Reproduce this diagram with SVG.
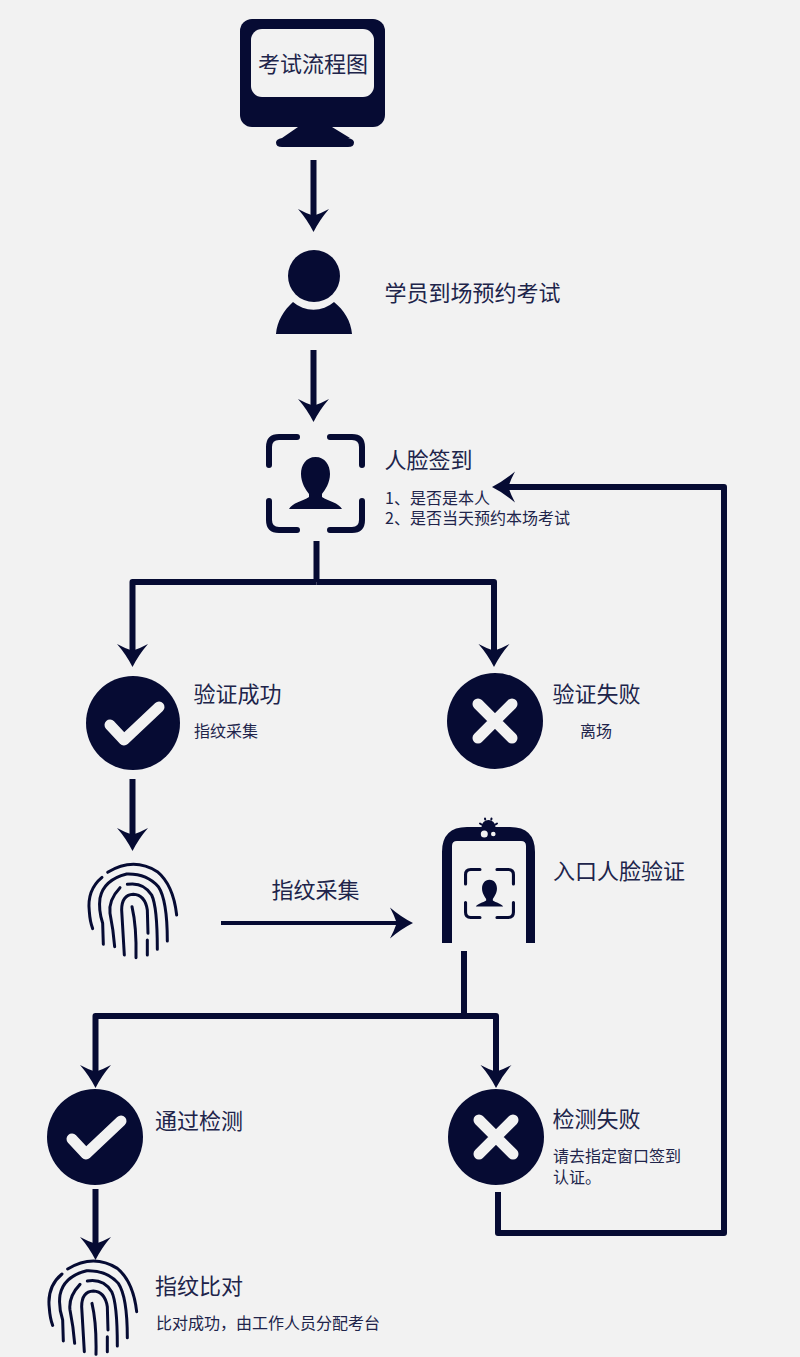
<svg xmlns="http://www.w3.org/2000/svg" xmlns:xlink="http://www.w3.org/1999/xlink" width="800" height="1357" viewBox="0 0 800 1357">
<style>
.f{fill:#060b33}
.bg{fill:#f2f2f2}
.c{fill:none;stroke:#060b33;stroke-width:6;stroke-linejoin:round}
.a{marker-end:url(#ah)}
.t{font-family:"Noto Sans CJK SC","Noto Sans",sans-serif;fill:#20244a;font-weight:400}
.h{font-size:22px}
.s{font-size:16px}
.fp{fill:none;stroke:#060b33;stroke-width:9;stroke-linecap:round;stroke-linejoin:round}
.sc{fill:none;stroke:#060b33;stroke-width:6;stroke-linecap:round}
.ck{fill:none;stroke:#f2f2f2;stroke-width:11;stroke-linecap:round;stroke-linejoin:round}
</style>
<defs>
<marker id="ah" markerUnits="userSpaceOnUse" markerWidth="36" markerHeight="36" refX="10" refY="18" viewBox="0 0 36 36" orient="auto">
<path class="f" d="M23,18Q11,24 0,33.500Q4,26 6,20V16Q4,10 0,2.500Q11,12 23,18Z"/>
</marker>
<g id="scan">
<path class="sc" d="M269,465V447Q269,437 279,437H297M330,437H352Q362,437 362,447V465M269,501V520Q269,530 279,530H297M330,530H352Q362,530 362,520V501"/>
<path class="f" d="M315.500,457C306,457 301,465 301,474C301,483 306,490 309,494V497C303,501 292,503 289,509H342C339,503 328,501 322,497V494C325,490 330,483 330,474C330,465 325,457 315.500,457Z"/>
</g>
<g id="print" transform="scale(.3333)">
<path class="fp" d="M113,67Q190,20 262,65Q310,105 320,195M96,82Q50,120 58,185Q60,215 68,236M100,283L98,220Q85,180 90,145Q100,90 170,72Q230,70 265,110Q292,150 292,273M134,290Q130,240 120,190Q115,150 150,113M172,103Q220,95 245,135Q262,170 262,298M163,315L155,180Q155,135 190,133Q225,135 232,180L234,250M186,170Q200,230 198,323M232,270V315"/>
</g>
</defs>
<rect class="bg" width="800" height="1357"/>
<g id="connectors">
<path class="c a" d="M313.500,160V219"/>
<path class="c a" d="M313.500,350V409"/>
<path class="c" d="M316.500,541V582"/>
<path class="c a" d="M316.500,582H132.500V654"/>
<path class="c a" d="M316.500,582H494V654"/>
<path class="c a" d="M132.500,779V838"/>
<path class="c a" style="stroke-width:4" d="M221,923H400"/>
<path class="c" d="M464,951V1016"/>
<path class="c a" d="M464,1016H95.500V1075"/>
<path class="c a" d="M464,1016H496V1075"/>
<path class="c a" d="M95.500,1189V1247"/>
<path class="c a" d="M498,1192V1233H724V487H505"/>
</g>
<g id="monitor">
<rect class="f" x="240" y="19" width="145" height="108" rx="12"/>
<rect class="bg" x="251" y="29" width="123" height="68" rx="11"/>
<path class="f" d="M298,127H332L350,138H348Q354,139 354,142.500Q354,147 348,147H282Q276,147 276,142.500Q276,139 282,138Z"/>
<text class="t h" x="258" y="71.500">考试流程图</text>
</g>
<g id="person">
<circle class="f" cx="314" cy="276" r="26"/>
<path class="f" d="M276,334C277,321 284,310 293,302A31,31 0 0 0 334,302C344,310 351,321 352,334Z"/>
<text class="t h" x="384.500" y="301">学员到场预约考试</text>
</g>
<g id="face-sign">
<use xlink:href="#scan"/>
<text class="t h" x="384.500" y="468">人脸签到</text>
<text class="t s" x="385" y="504">1、是否是本人</text>
<text class="t s" x="385" y="524">2、是否当天预约本场考试</text>
</g>
<g id="verify-ok">
<circle class="f" cx="133" cy="723" r="47"/>
<path class="ck" d="M110,725L124,740L159,707"/>
<text class="t h" x="193.500" y="702">验证成功</text>
<text class="t s" x="194" y="737">指纹采集</text>
</g>
<g id="verify-fail">
<circle class="f" cx="495" cy="721" r="48"/>
<path class="ck" d="M478,704L512,738M512,704L478,738"/>
<text class="t h" x="552.500" y="702">验证失败</text>
<text class="t s" x="580" y="737">离场</text>
</g>
<g id="fingerprint-1">
<use xlink:href="#print" transform="translate(70,850)"/>
</g>
<g id="collect-label">
<text class="t h" x="271.500" y="898">指纹采集</text>
</g>
<g id="gate">
<path class="f" d="M442,943V852Q442,827 467,827H510Q535,827 535,852V943H526V846Q526,841 521,841H457Q452,841 452,846V943Z"/>
<path class="f" d="M481.500,827A7,7 0 0 1 495.500,827Z"/>
<path fill="none" stroke="#060b33" stroke-width="2" stroke-linecap="round" d="M480,823.500L481.500,824.500M485,818.500L485.200,819.500M491.500,818.500L491.300,819.500M497,823.500L495.500,824.500"/>
<circle class="bg" cx="484.300" cy="834" r="3.500"/>
<circle class="bg" cx="493.300" cy="834" r="2.300"/>
<use xlink:href="#scan" transform="translate(464,868) scale(.515) translate(-266,-434)"/>
<text class="t h" x="553" y="879">入口人脸验证</text>
</g>
<g id="pass-check">
<circle class="f" cx="95" cy="1137" r="48"/>
<path class="ck" d="M72,1139L86,1154L121,1121"/>
<text class="t h" x="155" y="1129">通过检测</text>
</g>
<g id="check-fail">
<circle class="f" cx="496" cy="1137" r="48"/>
<path class="ck" d="M479,1120L513,1154M513,1120L479,1154"/>
<text class="t h" x="552.500" y="1127">检测失败</text>
<text class="t s" x="553" y="1162">请去指定窗口签到</text>
<text class="t s" x="553" y="1183">认证。</text>
</g>
<g id="fingerprint-2">
<use xlink:href="#print" transform="translate(30,1246.700)"/>
<text class="t h" x="155" y="1294">指纹比对</text>
<text class="t s" x="156" y="1329">比对成功，由工作人员分配考台</text>
</g>
</svg>
